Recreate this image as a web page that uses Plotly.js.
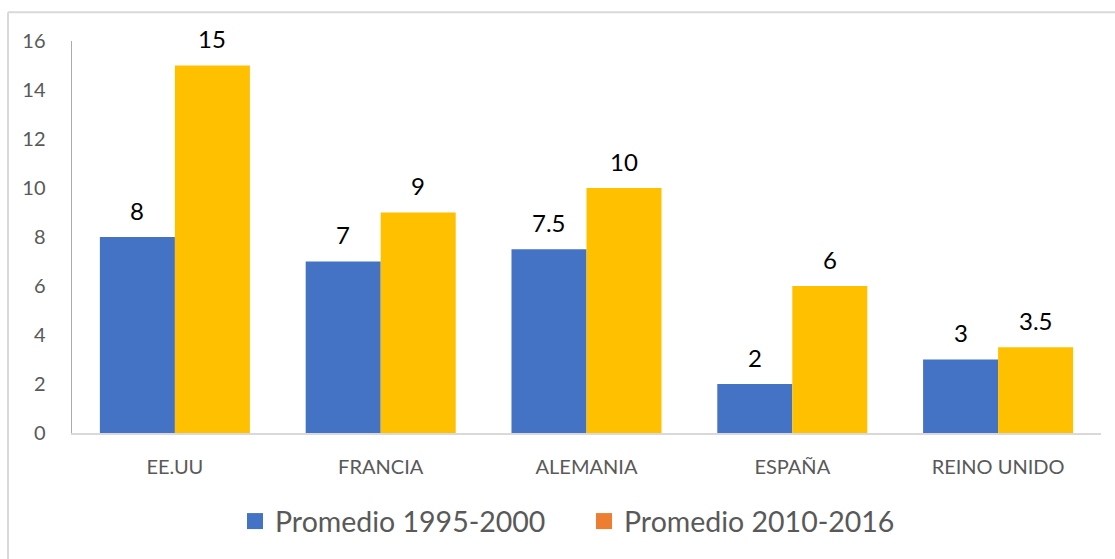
<!DOCTYPE html>
<html>
<head>
<meta charset="utf-8">
<script src="https://cdn.plot.ly/plotly-3.0.1.min.js"></script>
<style>
  html, body { margin: 0; padding: 0; background: #fff; }
  #chart { width: 1115px; height: 559px; }
</style>
</head>
<body>
<div id="chart"></div>
<script>
const categories = ["EE.UU", "FRANCIA", "ALEMANIA", "ESPAÑA", "REINO UNIDO"];
const series1Name = "Promedio 1995-2000";
const series2Name = "Promedio 2010-2016";
const series1 = [8, 7, 7.5, 2, 3];
const series2 = [15, 9, 10, 6, 3.5];
const yTicks = [0, 2, 4, 6, 8, 10, 12, 14, 16];

const BLUE = "#4472C4";
const YELLOW = "#FFC000";
const ORANGE = "#ED7D31";
const FONT = "Lato, 'Open Sans', sans-serif";

const W = 1115, H = 559;
const M = { l: 72, r: 14, t: 41, b: 124 };
const PW = W - M.l - M.r, PH = H - M.t - M.b;
const px2x = X => (X - M.l) / PW;
const px2y = Y => (H - M.b - Y) / PH;

const bargap = 0.271;
const barPx = PW / categories.length * (1 - bargap) / 2;

const traces = [
  { type: "bar", x: categories, y: series1, name: series1Name, marker: { color: BLUE }, showlegend: false, hoverinfo: "x+y" },
  { type: "bar", x: categories, y: series2, name: series2Name, marker: { color: YELLOW }, showlegend: false, hoverinfo: "x+y" },
  { type: "scatter", mode: "markers", x: [null], y: [null], name: series1Name, marker: { symbol: "square", size: 17, color: BLUE } },
  { type: "scatter", mode: "markers", x: [null], y: [null], name: series2Name, marker: { symbol: "square", size: 17, color: ORANGE } }
];

const annotations = [];
[series1, series2].forEach((s, si) => {
  s.forEach((v, i) => {
    annotations.push({
      x: categories[i], y: v, xref: "x", yref: "y",
      text: String(v), showarrow: false,
      xshift: (si === 0 ? -1 : 1) * barPx / 2,
      yshift: 27, yanchor: "middle", xanchor: "center",
      font: { family: FONT, size: 24, color: "#000000" }
    });
  });
});

const lineStyle = { color: "#D9D9D9", width: 2 };
const shapes = [
  { type: "line", xref: "paper", yref: "paper", x0: px2x(8), x1: px2x(W + 5), y0: px2y(12), y1: px2y(12), line: lineStyle },
  { type: "line", xref: "paper", yref: "paper", x0: px2x(8), x1: px2x(8), y0: px2y(12), y1: px2y(H + 5), line: lineStyle }
];

const layout = {
  width: W, height: H,
  margin: M,
  paper_bgcolor: "#ffffff",
  plot_bgcolor: "#ffffff",
  barmode: "group",
  bargap: bargap,
  bargroupgap: 0,
  font: { family: FONT, color: "#595959" },
  xaxis: {
    type: "category",
    showline: true, linecolor: "#D9D9D9", linewidth: 2,
    showgrid: false, zeroline: false, ticks: "",
    tickfont: { family: FONT, size: 20, color: "#595959" },
    ticklabelstandoff: 15,
    fixedrange: true
  },
  yaxis: {
    range: [0, 16], tickvals: yTicks, ticktext: yTicks.map(String),
    showline: true, linecolor: "#ABABAB", linewidth: 1.5,
    showgrid: false, zeroline: false, ticks: "",
    tickfont: { family: FONT, size: 20, color: "#595959" },
    ticklabelstandoff: 21,
    fixedrange: true
  },
  showlegend: true,
  legend: {
    orientation: "h",
    x: px2x(235), xanchor: "left",
    y: px2y(524), yanchor: "middle",
    font: { family: FONT, size: 28.5, color: "#595959" },
    entrywidth: 304, entrywidthmode: "pixels",
    bgcolor: "rgba(0,0,0,0)"
  },
  annotations: annotations,
  shapes: shapes
};

Plotly.newPlot("chart", traces, layout, { displayModeBar: false, staticPlot: true });
</script>
</body>
</html>
